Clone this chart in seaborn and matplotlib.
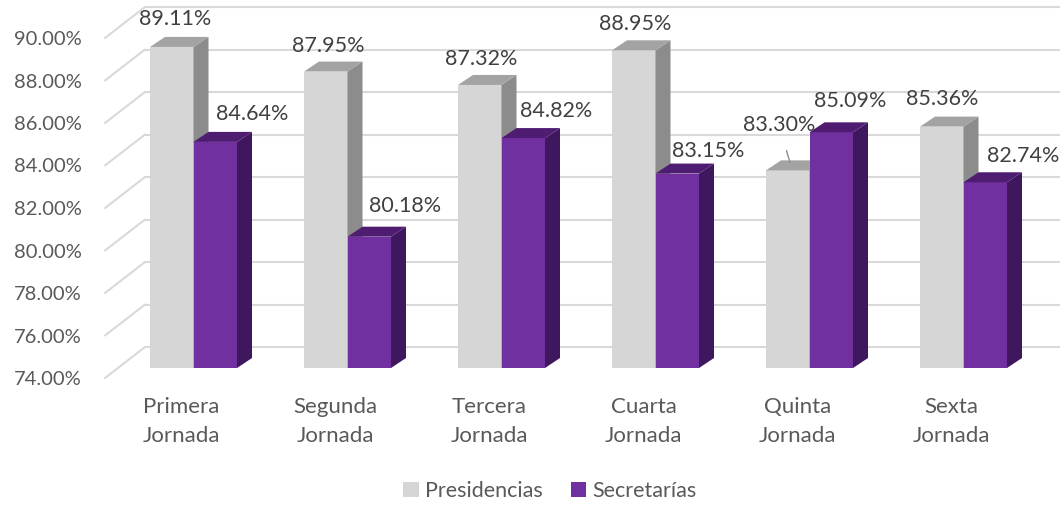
import matplotlib
matplotlib.use("Agg")
import matplotlib.pyplot as plt
import seaborn as sns
import pandas as pd
from matplotlib.patches import Polygon, Patch
from matplotlib.lines import Line2D
from matplotlib.transforms import ScaledTranslation, IdentityTransform

# ---------------- data ----------------
categories = ["Primera\nJornada", "Segunda\nJornada", "Tercera\nJornada",
              "Cuarta\nJornada", "Quinta\nJornada", "Sexta\nJornada"]
series = ["Presidencias", "Secretarías"]
presidencias = [89.11, 87.95, 87.32, 88.95, 83.30, 85.36]
secretarias = [84.64, 80.18, 84.82, 83.15, 85.09, 82.74]
y_ticks = [74, 76, 78, 80, 82, 84, 86, 88, 90]
y_tick_labels = [f"{v:.2f}%" for v in y_ticks]

# ---------------- style ----------------
W, H, DPI = 1060, 508, 100
BASE = 74
GRAY = ["#D6D6D6", "#A3A3A3", "#8C8C8C"]      # front, top, side
PURPLE = ["#7030A0", "#4E1D72", "#3F175E"]
GRID = "#D9D9D9"
TXT = "#404040"
TICK = "#595959"
DEPTH = (15, 10)           # bar depth in pixels
# label offsets (px) relative to the front-face top centre
label_off_p = [(0, 26), (-1, 24), (-2, 24), (-2, 24), (-12, 43), (-3, 26)]
label_off_s = [(34, 26), (33, 29), (30, 25), (28, 21), (16, 29), (35, 24)]

sns.set_theme(style="white")
plt.rcParams['font.family'] = ['Lato', 'DejaVu Sans']

fig = plt.figure(figsize=(W / DPI, H / DPI), dpi=DPI)
fig.patch.set_facecolor("white")
ax = fig.add_axes([105 / W, (H - 390) / H, (1060 - 105) / W, 390 / H])
ax.set_facecolor("none")

df = pd.DataFrame({
    "Jornada": categories * 2,
    "Serie": [series[0]] * len(categories) + [series[1]] * len(categories),
    "Valor": presidencias + secretarias,
})

sns.barplot(data=df, x="Jornada", y="Valor", hue="Serie", order=categories,
            hue_order=series, palette=[GRAY[0], PURPLE[0]], width=0.565,
            gap=0, saturation=1, legend=False, ax=ax, linewidth=0, errorbar=None)

# limits: front face 74 -> px 368, 90 -> px 28 ; group centre px 193.5, 154 px / category
ppu_y = (368 - 28) / 16.0
ax.set_ylim(BASE - (390 - 368) / ppu_y, 90 + 28 / ppu_y)
ax.set_xlim((105 - 193.5) / 154, (1060 - 193.5) / 154)
ax.autoscale(False)
for s in ax.spines.values():
    s.set_visible(False)

n = len(categories)
bars = list(ax.patches)
for i, p in enumerate(bars):
    h = p.get_height()
    p.set_y(BASE)
    p.set_height(h - BASE)
    p.set_zorder(3 if i < n else 4)

fig.canvas.draw()
tD = ax.transData

# ---- back wall gridlines + side wall diagonals ----
x_front = 105
x_back = 145
for v in y_ticks:
    _, yd = tD.transform((0, v))
    y_back = yd + 21
    y_front = yd - 10
    ax.add_line(Line2D([x_back, W], [y_back, y_back], transform=IdentityTransform(),
                       color=GRID, lw=1.5, zorder=1, clip_on=False))
    ax.add_line(Line2D([x_front, x_back], [y_front, y_back], transform=IdentityTransform(),
                       color=GRID, lw=1.5, zorder=1, clip_on=False))

# ---- 3D faces ----
dx, dy = DEPTH
for i, p in enumerate(bars):
    cols = GRAY if i < n else PURPLE
    z = 3.1 if i < n else 4.1
    x0, y0 = tD.transform((p.get_x(), p.get_y()))
    x1, y1 = tD.transform((p.get_x() + p.get_width(), p.get_y() + p.get_height()))
    side = Polygon([(x1, y0), (x1, y1), (x1 + dx, y1 + dy), (x1 + dx, y0 + dy)],
                   closed=True, transform=IdentityTransform(), facecolor=cols[2],
                   edgecolor="none", zorder=z, clip_on=False)
    top = Polygon([(x0, y1), (x1, y1), (x1 + dx, y1 + dy), (x0 + dx, y1 + dy)],
                  closed=True, transform=IdentityTransform(), facecolor=cols[1],
                  edgecolor="none", zorder=z, clip_on=False)
    ax.add_patch(side)
    ax.add_patch(top)

# ---- value labels ----
vals = presidencias + secretarias
offs = label_off_p + label_off_s
for i, p in enumerate(bars):
    cx = p.get_x() + p.get_width() / 2
    ty = p.get_y() + p.get_height()
    ox, oy = offs[i]
    kw = {}
    if oy > 35:
        kw["arrowprops"] = dict(arrowstyle="-", color="#8C8C8C", lw=1.0,
                                shrinkA=9, shrinkB=2)
    ax.annotate(f"{vals[i]:.2f}%", xy=(cx + 0.02, ty + 0.25), xycoords="data",
                xytext=(ox * 72 / DPI, (oy + 2) * 72 / DPI - 0.25 * ppu_y * 72 / DPI),
                textcoords="offset points", ha="center", va="center",
                fontsize=15.5, color=TXT, zorder=6, annotation_clip=False, **kw)

# ---- ticks ----
ax.set_yticks(y_ticks)
ax.set_yticklabels(y_tick_labels)
ax.tick_params(axis="y", length=0, pad=17, labelsize=14.5, labelcolor=TICK)
off_y = ScaledTranslation(0, -10 / DPI, fig.dpi_scale_trans)
for lab in ax.get_yticklabels():
    lab.set_transform(lab.get_transform() + off_y)

ax.set_xticks(range(n))
ax.set_xticklabels(categories, linespacing=1.55)
ax.tick_params(axis="x", length=0, pad=5, labelsize=16, labelcolor=TICK)
off_x = ScaledTranslation(-12 / DPI, 0, fig.dpi_scale_trans)
for lab in ax.get_xticklabels():
    lab.set_transform(lab.get_transform() + off_x)
ax.set_xlabel("")
ax.set_ylabel("")

# ---- legend ----
handles = [Patch(facecolor=GRAY[0], edgecolor="none"),
           Patch(facecolor=PURPLE[0], edgecolor="none")]
fig.legend(handles, series, loc="center", bbox_to_anchor=(550 / W, 1 - 491 / H),
           ncol=2, frameon=False, handlelength=0.7, handleheight=0.7,
           handletextpad=0.3, columnspacing=1.3, fontsize=15.5, labelcolor=TICK)

fig.savefig("out.png", dpi=DPI, facecolor="white")
